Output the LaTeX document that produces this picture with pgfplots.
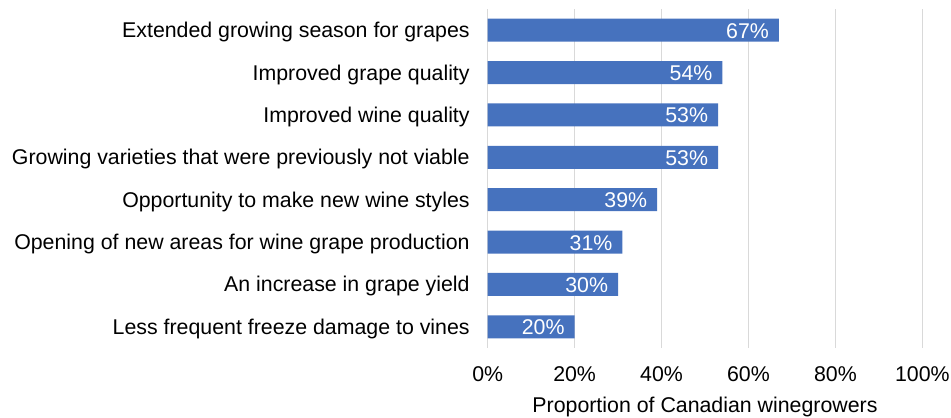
\documentclass[border=0pt]{standalone}
\usepackage{pgfplots}
\pgfplotsset{compat=1.18}
\usepackage{fontspec}
\setmainfont{Liberation Sans}
\definecolor{barblue}{RGB}{70,114,190}
\definecolor{gridgray}{RGB}{217,217,217}

\begin{document}
\begin{tikzpicture}
\begin{axis}[
    xbar,
    scale only axis,
    width=326pt, height=254.25pt,
    xmin=0, xmax=100,
    ymin=-0.5, ymax=7.5,
    y dir=reverse,
    bar width=17.25pt,
    xtick={0,20,40,60,80,100},
    xticklabel={\pgfmathprintnumber{\tick}\%},
    ytick={0,...,7},
    yticklabels={
        Extended growing season for grapes,
        Improved grape quality,
        Improved wine quality,
        Growing varieties that were previously not viable,
        Opportunity to make new wine styles,
        Opening of new areas for wine grape production,
        An increase in grape yield,
        Less frequent freeze damage to vines},
    major tick length=0pt,
    xmajorgrids,
    grid style={gridgray, line width=1pt},
    axis line style={draw=none},
    tick label style={font=\fontsize{16}{18}\selectfont, text=black},
    xticklabel style={yshift=-10.5pt},
    yticklabel style={xshift=-10pt, yshift=-1.5pt},
    /pgf/number format/assume math mode=true,
    xlabel={Proportion of Canadian winegrowers},
    xlabel style={font=\fontsize{16}{18}\selectfont, yshift=-4.5pt},
    point meta=x,
    nodes near coords={\pgfmathprintnumber{\pgfplotspointmeta}\%},
    nodes near coords style={anchor=east, text=white,
        font=\fontsize{16}{18}\selectfont, xshift=-4pt, yshift=-0.5pt},
]
\addplot[fill=barblue, draw=none] coordinates {
    (67,0) (54,1) (53,2) (53,3) (39,4) (31,5) (30,6) (20,7)};
\end{axis}
\pgfresetboundingbox
\path[use as bounding box] (-365.8pt,-52.5pt) rectangle (347.5pt,261pt);
\end{tikzpicture}
\end{document}
